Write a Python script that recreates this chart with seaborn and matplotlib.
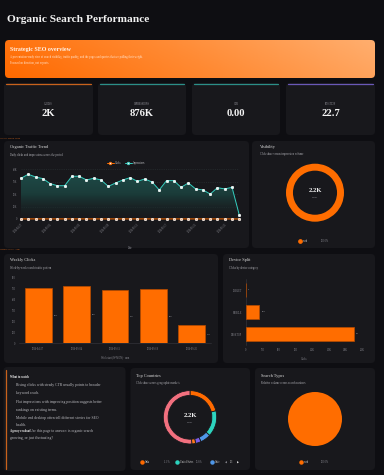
import numpy as np
import pandas as pd
import matplotlib
matplotlib.use("Agg")
import matplotlib.pyplot as plt
import seaborn as sns
from matplotlib.patches import FancyBboxPatch
from matplotlib.lines import Line2D
from matplotlib.transforms import IdentityTransform
from matplotlib.ticker import FuncFormatter
from matplotlib.colors import LinearSegmentedColormap

# Données
start_day = "2026-04-27"
impressions = [32800, 36000, 33800, 32500, 28500, 26800, 26800, 34400, 34400, 31400,
               32800, 31400, 26300, 29000, 31400, 33300, 30300, 32200, 29800, 23400,
               30900, 30900, 25500, 29000, 24200, 23400, 20100, 25200, 24200, 25500, 3200]
clicks = [70, 75, 78, 72, 68, 70, 75,
          76, 80, 78, 74, 72, 70, 77,
          72, 68, 70, 74, 66, 65, 72,
          70, 72, 74, 68, 70, 71, 72,
          68, 64, 38]
kpi_labels = ["CLICKS", "IMPRESSIONS", "CTR", "POSITION"]
kpi_values = ["2K", "876K", "0.00", "22.7"]
kpi_colors = ["#c8621c", "#2b8f88", "#2b8f88", "#6a58b8"]
devices = ["TABLET", "MOBILE", "DESKTOP"]
device_clicks = [3, 239, 1958]
countries = ["India", "United States", "United Kingdom", "Canada", "Australia", "Other"]
country_share = [21.1, 15.8, 6.4, 3.3, 2.3, 51.1]
country_colors = ["#ff6a00", "#2dd4bf", "#4f97e8", "#7b5ce6", "#ff7a1a", "#f2707f"]
search_types = ["web"]
search_share = [100.0]

BG = "#0e0e12"
CARD = "#18181c"
ORANGE = "#ff6d00"
TEAL = "#35cfc0"
GREY = "#8c8c94"
W, H = 384, 475

days = pd.date_range(start_day, periods=len(impressions))
df = pd.DataFrame({"date": days, "Clicks": clicks, "Impressions": impressions})
df["week"] = df["date"] - pd.to_timedelta(df["date"].dt.weekday, unit="D")
weekly = df.groupby("week", as_index=False)["Clicks"].sum()
weekly["label"] = weekly["week"].dt.strftime("%Y-%m-%d")


def kfmt(v, _=None):
    if abs(v) >= 1000:
        return f"{v/1000:.1f}".rstrip("0").rstrip(".") + "K"
    return f"{v:.0f}"


sns.set_theme(style="dark")
plt.rcParams["font.family"] = ["Liberation Serif", "DejaVu Serif"]

fig = plt.figure(figsize=(W / 100, H / 100), dpi=100, facecolor=BG)


def card(x1, y1, x2, y2, color=CARD, r=4):
    p = FancyBboxPatch((x1, H - y2), x2 - x1, y2 - y1,
                       boxstyle=f"round,pad=0,rounding_size={r}",
                       transform=IdentityTransform(), facecolor=color,
                       edgecolor="none", zorder=-2)
    fig.add_artist(p)
    return p


def txt(x, y, s, size, color="#e6e6e6", **kw):
    kw.setdefault("va", "center")
    return fig.text(x / W, 1 - y / H, s, fontsize=size, color=color, **kw)


def add_ax(l, t, r, b):
    ax = fig.add_axes([l / W, 1 - b / H, (r - l) / W, (b - t) / H])
    ax.set_facecolor("none")
    return ax


# Titre
txt(7, 20, "Organic Search Performance", 8.2, "#f2f2f2", weight="bold")

# Bandeau dégradé
bax = add_ax(5, 40, 375, 78)
gx = np.linspace(0, 1, 200)
gy = np.linspace(0, 1, 20)
grad = gx[None, :] * 0.85 + gy[:, None] * 0.15
bcmap = LinearSegmentedColormap.from_list("b", ["#ff6a00", "#ff8a33", "#ffae6e"])
im = bax.imshow(grad, cmap=bcmap, aspect="auto", extent=[0, 1, 0, 1], origin="lower")
bclip = FancyBboxPatch((5, H - 78), 370, 38, boxstyle="round,pad=0,rounding_size=4",
                       transform=IdentityTransform(), facecolor="none", edgecolor="none")
im.set_clip_path(bclip)
bax.axis("off")
txt(10, 49, "Strategic SEO overview", 4.3, "#fff4ea", weight="bold")
txt(10, 57, "A presentation-ready view of search visibility, traffic quality, and the pages and queries that are pulling their weight.",
    2.0, "#ffe6d2")
txt(10, 62.5, "Focused on direction, not exports.", 2.0, "#ffe6d2")

# KPI
kx = [(4, 93), (98, 186), (192, 280), (286, 375)]
for (x1, x2), lab, val, col in zip(kx, kpi_labels, kpi_values, kpi_colors):
    card(x1, 83, x2, 135)
    fig.add_artist(Line2D([x1 + 2, x2 - 2], [H - 83.5, H - 83.5], transform=IdentityTransform(),
                          color=col, lw=0.9))
    cx = (x1 + x2) / 2
    txt(cx, 104, lab, 1.8, "#9a9aa2", ha="center")
    txt(cx, 114, val, 7.6, "#f4f4f4", ha="center", weight="bold")

txt(0, 138, "Organic Search Trend", 1.6, "#c8621c")
txt(0, 249, "Weekly Clicks · Sum", 1.6, "#c8621c")

# Tendance
card(4, 141, 249, 248)
txt(10, 147, "Organic Traffic Trend", 3.2, "#dcdcdc")
txt(10, 154.5, "Daily clicks and impressions across the period", 2.0, "#b0b0b6")
for lx, name, col in [(110, "Clicks", ORANGE), (128.3, "Impressions", TEAL)]:
    fig.add_artist(Line2D([lx - 3.5, lx + 3.5], [H - 162.7, H - 162.7], transform=IdentityTransform(),
                          color=col, lw=0.7))
    fig.add_artist(Line2D([lx], [H - 162.7], transform=IdentityTransform(), color=col, marker="o",
                          ms=1.8, mfc="#f5f5f5", mec=col, mew=0.6, lw=0))
    txt(lx + 5, 162.7, name, 1.8, "#c8c8cc")

tax = add_ax(21, 169.3, 239.3, 219)
long = df.melt(id_vars="date", value_vars=["Clicks", "Impressions"], var_name="metric", value_name="value")
sns.lineplot(data=long, x="date", y="value", hue="metric", palette={"Clicks": ORANGE, "Impressions": TEAL},
             marker="o", markersize=1.7, markeredgewidth=0.5, linewidth=0.7, legend=False, ax=tax, zorder=4)
for ln in tax.get_lines():
    ln.set_markerfacecolor("#dffcf8" if ln.get_color() == TEAL else "#ffb27a")
    ln.set_clip_on(False)
poly = tax.fill_between(df["date"], df["Impressions"], 0, color="none")
xn = matplotlib.dates.date2num(df["date"])
fcmap = LinearSegmentedColormap.from_list("f", ["#19202222", "#1b3c3a", "#1e4d49"])
fim = tax.imshow(np.linspace(0, 1, 100)[:, None], cmap=fcmap, aspect="auto", origin="lower",
                 extent=[xn[0], xn[-1], 0, 40000], zorder=1)
fim.set_clip_path(poly.get_paths()[0], transform=tax.transData)
tax.set_xlim(xn[0], xn[-1])
tax.set_ylim(0, 40000)
tax.set_yticks([0, 10000, 20000, 30000, 40000])
tax.yaxis.set_major_formatter(FuncFormatter(kfmt))
tax.set_xticks(df["date"][::4])
tax.set_xticklabels(df["date"][::4].dt.strftime("%Y-%m-%d"), rotation=45, ha="right", rotation_mode="anchor")
tax.tick_params(labelsize=1.8, colors=GREY, length=0, pad=2.5)
tax.grid(axis="y", color="#2c3436", lw=0.4, ls=(0, (2, 2)), zorder=2)
tax.grid(axis="x", visible=False)
for s in tax.spines.values():
    s.set_visible(False)
tax.set_xlabel("Date", fontsize=1.8, color=GREY, labelpad=9)
tax.set_ylabel("")

# Visibilité
card(252, 141, 375, 248)
txt(260, 147, "Visibility", 3.2, "#dcdcdc")
txt(260, 154, "Click share versus impression volume", 2.0, "#b0b0b6")
vax = add_ax(286, 163.7, 344, 221.7)
vax.pie(search_share, colors=[ORANGE], startangle=90, counterclock=False,
        wedgeprops=dict(width=0.24, edgecolor="none"))
vax.set_xlim(-1, 1)
vax.set_ylim(-1, 1)
txt(315, 190.5, kfmt(sum(clicks)), 4.8, "#f4f4f4", ha="center", weight="bold")
txt(315, 197.5, "Clicks", 1.7, GREY, ha="center")
fig.add_artist(Line2D([300], [H - 240.7], transform=IdentityTransform(), marker="o", ms=2.4,
                      color=ORANGE, lw=0))
txt(303, 240.7, "web", 1.8, "#d0d0d0")
txt(321, 240.7, "100.0%", 1.8, GREY)

# Clics hebdomadaires
card(4, 254, 218, 363)
txt(10, 260, "Weekly Clicks", 3.2, "#dcdcdc")
txt(10, 268, "Week-by-week search traffic pattern", 2.0, "#b0b0b6")
wax = add_ax(19.2, 277.7, 210.7, 343.3)
sns.barplot(data=weekly, x="label", y="Clicks", color=ORANGE, width=0.7, saturation=1,
            edgecolor="#b84c00", linewidth=0.5, ax=wax, zorder=3)
for p, v in zip(wax.patches, weekly["Clicks"]):
    wax.text(p.get_x() + p.get_width() + 0.05, v / 2, kfmt(v), fontsize=1.7, color="#b8b8be",
             va="center", ha="left")
wax.set_ylim(0, 600)
wax.set_yticks(range(0, 601, 100))
wax.tick_params(labelsize=1.8, colors=GREY, length=0, pad=2.5)
wax.grid(False)
for s in ["top", "right", "left"]:
    wax.spines[s].set_visible(False)
wax.spines["bottom"].set_color("#3a3a40")
wax.spines["bottom"].set_linewidth(0.4)
wax.set_xlabel("Week start (W-MON) · sum", fontsize=1.8, color=GREY, labelpad=3)
wax.set_ylabel("")

# Appareils
card(223, 254, 375, 363)
txt(229, 260, "Device Split", 3.2, "#dcdcdc")
txt(229, 268, "Clicks by device category", 2.0, "#b0b0b6")
dax = add_ax(246, 279, 362, 345)
ddf = pd.DataFrame({"device": devices, "clicks": device_clicks})
sns.barplot(data=ddf, y="device", x="clicks", order=devices, color=ORANGE, width=0.67, saturation=1,
            edgecolor="#b84c00", linewidth=0.5, orient="h", ax=dax, zorder=3)
for p, v in zip(dax.patches, device_clicks):
    dax.text(p.get_width() + 40, p.get_y() + p.get_height() / 2, kfmt(v), fontsize=1.7,
             color="#b8b8be", va="center", ha="left")
dax.set_xlim(0, 2100)
dax.set_xticks(range(0, 2101, 300))
dax.xaxis.set_major_formatter(FuncFormatter(kfmt))
dax.tick_params(labelsize=1.8, colors=GREY, length=0, pad=2.5)
dax.grid(False)
for s in ["top", "right", "bottom"]:
    dax.spines[s].set_visible(False)
dax.spines["left"].set_color("#3a3a40")
dax.spines["left"].set_linewidth(0.4)
dax.set_xlabel("Clicks", fontsize=1.8, color=GREY, labelpad=3)
dax.set_ylabel("")

# À surveiller
card(3.5, 367, 125.5, 471)
fig.add_artist(Line2D([5.5, 5.5], [H - 370, H - 469], transform=IdentityTransform(),
                      color="#c8621c", lw=0.9))
txt(10, 376.5, "What to watch", 2.2, "#f0f0f0", weight="bold")
watch_lines = [(15.5, 385, "Rising clicks with steady CTR usually points to broader"),
               (15.5, 393, "keyword reach."),
               (15.5, 402.3, "Flat impressions with improving position suggests better"),
               (15.5, 409.5, "rankings on existing terms."),
               (15.5, 417.7, "Mobile and desktop often tell different stories for SEO"),
               (15.5, 424.5, "health.")]
for x, y, s in watch_lines:
    txt(x, y, s, 2.7, "#bdbdc2")
txt(10, 431, "Agency readout", 2.2, "#f0f0f0", weight="bold")
txt(30, 431, "Use this page to answer: is organic search", 2.7, "#bdbdc2")
txt(10, 438, "growing, or just fluctuating?", 2.7, "#bdbdc2")

# Pays
card(130.5, 368, 250, 470)
txt(136, 376, "Top Countries", 3.2, "#dcdcdc")
txt(136, 383, "Click share across geographic markets", 2.0, "#b0b0b6")
cax = add_ax(190 - 26.7, 417.3 - 26.7, 190 + 26.7, 417.3 + 26.7)
cax.pie(country_share, colors=country_colors, startangle=90, counterclock=False,
        wedgeprops=dict(width=0.18, edgecolor=CARD, linewidth=0.6))
cax.set_xlim(-1, 1)
cax.set_ylim(-1, 1)
txt(190, 415.5, kfmt(sum(clicks)), 4.8, "#f4f4f4", ha="center", weight="bold")
txt(190, 422.5, "Clicks", 1.7, GREY, ha="center")
legend_items = [(141.7, countries[0], f"{country_share[0]:.1f}%", 164),
                (176.7, countries[1], f"{country_share[1]:.1f}%", 196),
                (211.7, "Unite", "", 0)]
for i, (lx, name, pct, px) in enumerate(legend_items):
    fig.add_artist(Line2D([lx], [H - 462.3], transform=IdentityTransform(), marker="o", ms=2.2,
                          color=country_colors[i], lw=0))
    txt(lx + 3, 462.3, name, 1.8, "#d0d0d0")
    if pct:
        txt(px, 462.3, pct, 1.8, GREY)
txt(225.7, 462.3, "◀", 1.8, GREY, ha="center", family="DejaVu Sans")
txt(231.7, 462.3, "1/3", 1.8, "#d0d0d0", ha="center")
txt(238, 462.3, "▶", 1.8, "#e0e0e0", ha="center", family="DejaVu Sans")

# Types de recherche
card(255, 368, 375, 470)
txt(261, 376, "Search Types", 3.2, "#dcdcdc")
txt(261, 383, "Relative volume across search surfaces", 2.0, "#b0b0b6")
sax = add_ax(315 - 27, 419 - 27, 315 + 27, 419 + 27)
sax.pie(search_share, colors=[ORANGE], startangle=90, counterclock=False,
        wedgeprops=dict(edgecolor="none"))
sax.set_xlim(-1, 1)
sax.set_ylim(-1, 1)
fig.add_artist(Line2D([300.5], [H - 462.3], transform=IdentityTransform(), marker="o", ms=2.2,
                      color=ORANGE, lw=0))
txt(304, 462.3, search_types[0], 1.8, "#d0d0d0")
txt(321, 462.3, f"{search_share[0]:.1f}%", 1.8, GREY)

fig.savefig("out.png", dpi=100, facecolor=BG)
